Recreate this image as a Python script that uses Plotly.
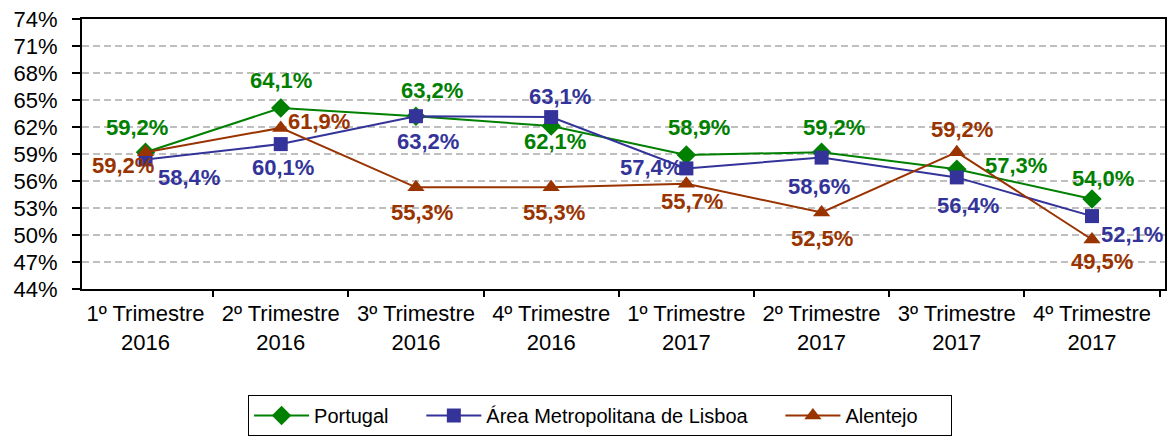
import plotly.graph_objects as go

categories = ["1º Trimestre<br>2016", "2º Trimestre<br>2016", "3º Trimestre<br>2016", "4º Trimestre<br>2016",
              "1º Trimestre<br>2017", "2º Trimestre<br>2017", "3º Trimestre<br>2017", "4º Trimestre<br>2017"]
portugal = [59.2, 64.1, 63.2, 62.1, 58.9, 59.2, 57.3, 54.0]
aml = [58.4, 60.1, 63.2, 63.1, 57.4, 58.6, 56.4, 52.1]
alentejo = [59.2, 61.9, 55.3, 55.3, 55.7, 52.5, 59.2, 49.5]
y_ticks = [44, 47, 50, 53, 56, 59, 62, 65, 68, 71, 74]

# label offsets in pixels (dx right, dy down) relative to each marker
off_pt = [(-9, -25), (0, -28), (16, -26), (4, 15), (13, -27), (12, -25), (59, -4), (11, -21)]
off_aml = [(43, 18), (2, 23), (12, 25), (9, -21), (-35, -1), (-3, 29), (11, 28), (40, 18)]
off_al = [(-23, 13), (38, -6), (6, 25), (3, 25), (6, 18), (0, 26), (5, -23), (10, 22)]

def fmt(v):
    return f"{v:.1f}%".replace(".", ",")

FONT = "Liberation Sans, Arial, sans-serif"
GAP = "\u00a0" * 5

series = [
    ("Portugal", portugal, "#008000", "diamond", 15, off_pt),
    ("Área Metropolitana de Lisboa", aml, "#333399", "square", 14, off_aml),
    ("Alentejo", alentejo, "#993300", "triangle-up", 15, off_al),
]

fig = go.Figure()
annotations = []
for name, vals, color, sym, msize, offs in series:
    fig.add_trace(go.Scatter(
        x=categories, y=vals, name=name + GAP, mode="lines+markers",
        line=dict(color=color, width=2),
        marker=dict(symbol=sym, color=color, size=msize),
        cliponaxis=False,
    ))
    for cat, v, (dx, dy) in zip(categories, vals, offs):
        annotations.append(dict(
            x=cat, y=v, xref="x", yref="y", text=fmt(v), showarrow=False,
            xshift=dx, yshift=-dy, xanchor="center", yanchor="middle",
            font=dict(family=FONT, size=22, color=color, weight="bold"),
        ))

fig.update_layout(
    width=1172, height=436,
    margin=dict(l=82, r=7, t=19, b=147),
    paper_bgcolor="white", plot_bgcolor="white",
    font=dict(family=FONT, size=18, color="black"),
    showlegend=True,
    annotations=annotations,
    legend=dict(orientation="h", xref="container", x=0.512, xanchor="center",
                yref="container", y=0.094, yanchor="top",
                bordercolor="black", borderwidth=1, font=dict(size=20),
                itemwidth=55, tracegroupgap=0),
    xaxis=dict(type="category", showline=True, linecolor="black", linewidth=2, mirror=True,
               ticks="outside", tickson="boundaries", ticklen=6, tickcolor="black", tickwidth=2,
               ticklabelstandoff=4,
               showgrid=False, tickfont=dict(size=22), automargin=False),
    yaxis=dict(range=[44, 74], tickvals=y_ticks, ticktext=[f"{t}%" for t in y_ticks],
               showline=True, linecolor="black", linewidth=2, mirror=True,
               ticks="outside", ticklen=8, tickcolor="black", tickwidth=2,
               ticklabelstandoff=10,
               showgrid=True, gridcolor="#BFBFBF", griddash="7px,4px", gridwidth=2,
               tickfont=dict(size=22), zeroline=False, automargin=False),
)

fig.write_html("out.html", config={"displayModeBar": False},
               post_script="document.body.style.margin='0px';")
